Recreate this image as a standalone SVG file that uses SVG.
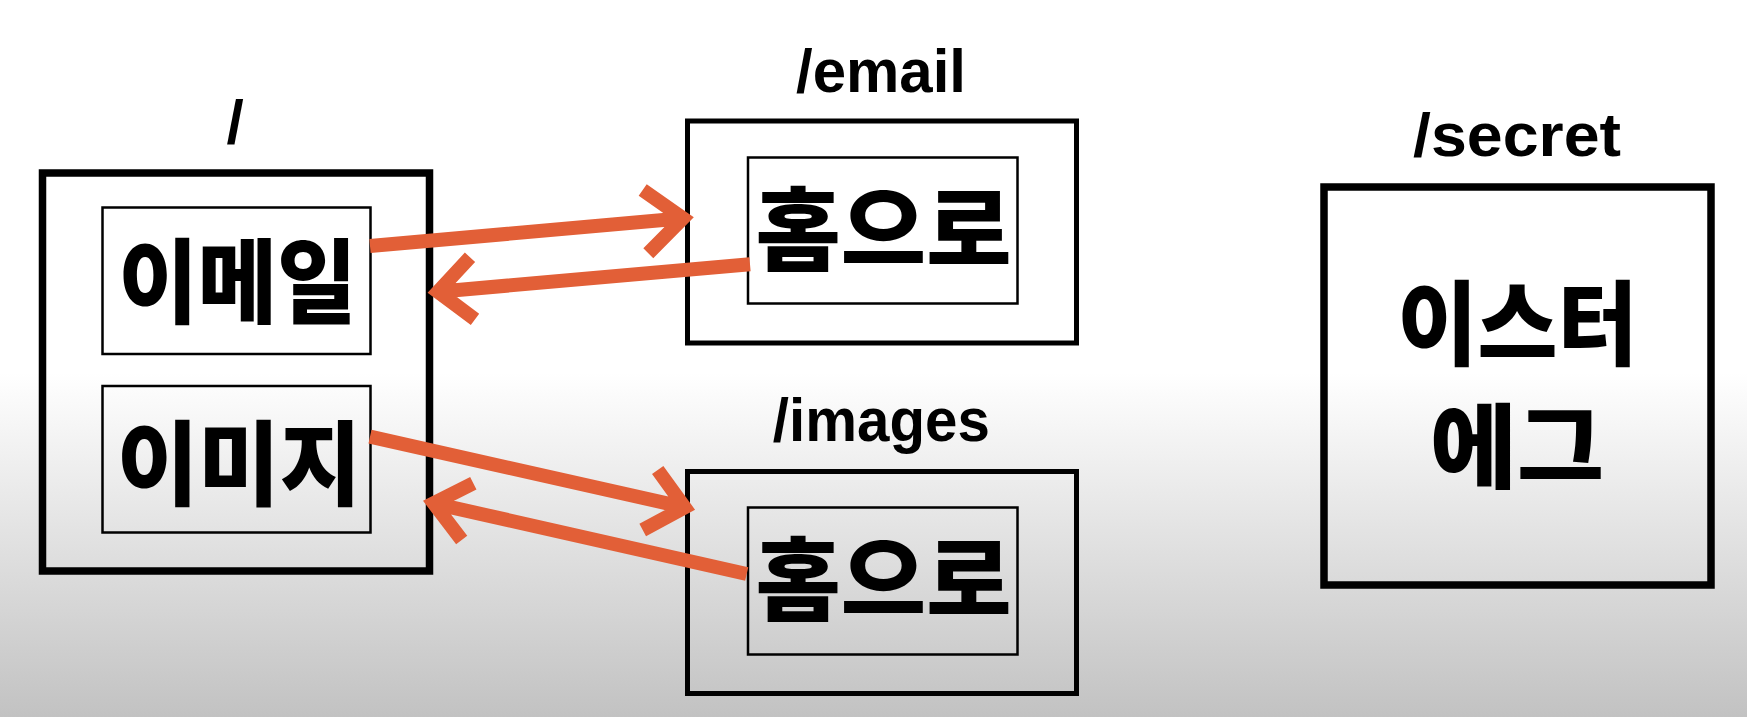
<svg xmlns="http://www.w3.org/2000/svg" width="1747" height="717" viewBox="0 0 1747 717">
<defs>
<linearGradient id="bg" x1="0" y1="0" x2="0" y2="1">
<stop offset="0" stop-color="#ffffff"/>
<stop offset="0.52" stop-color="#ffffff"/>
<stop offset="1" stop-color="#c2c2c2"/>
</linearGradient>
<style>
.thick{fill:none;stroke:#000;stroke-width:7.5}
.mid{fill:none;stroke:#000;stroke-width:5}
.thin{fill:none;stroke:#000;stroke-width:2.5}
.ko{font-family:"Noto Sans CJK KR","Noto Sans CJK SC",sans-serif;font-weight:900;font-size:92px;fill:#000;text-anchor:middle;dominant-baseline:central}
.lbl{font-family:"Liberation Sans","DejaVu Sans",sans-serif;font-weight:700;font-size:62px;fill:#000;text-anchor:middle}
.arr{fill:none;stroke:#E25F37;stroke-width:14;stroke-linecap:butt;stroke-linejoin:miter}
</style>
</defs>
<rect x="0" y="0" width="1747" height="717" fill="url(#bg)"/>

<g id="root">
<text class="lbl" x="235" y="143">/</text>
<rect class="thick" x="42.5" y="173" width="387" height="398"/>
</g>
<g id="email-link">
<rect class="thin" x="102.5" y="207.5" width="268" height="146.5"/>
<text class="ko" x="237.5" y="275" textLength="238" lengthAdjust="spacingAndGlyphs">이메일</text>
</g>
<g id="images-link">
<rect class="thin" x="102.5" y="386" width="268" height="146.5"/>
<text class="ko" x="239" y="457" textLength="244" lengthAdjust="spacingAndGlyphs">이미지</text>
</g>

<g id="email">
<text class="lbl" x="881" y="91.5" textLength="170" lengthAdjust="spacingAndGlyphs">/email</text>
<rect class="mid" x="687.5" y="121" width="389" height="222"/>
<rect class="thin" x="748" y="157.5" width="269.5" height="146"/>
<text class="ko" x="883.5" y="223" textLength="256" lengthAdjust="spacingAndGlyphs">홈으로</text>
</g>

<g id="images">
<text class="lbl" x="881.3" y="441" textLength="217" lengthAdjust="spacingAndGlyphs">/images</text>
<rect class="mid" x="687.5" y="471.5" width="389" height="222"/>
<rect class="thin" x="748" y="507.5" width="269.5" height="147"/>
<text class="ko" x="883.5" y="573" textLength="256" lengthAdjust="spacingAndGlyphs">홈으로</text>
</g>

<g id="secret">
<text class="lbl" x="1517" y="155.5" textLength="208" lengthAdjust="spacingAndGlyphs">/secret</text>
<rect class="thick" x="1324" y="187" width="387" height="398"/>
<text class="ko" x="1517.5" y="317" textLength="240" lengthAdjust="spacingAndGlyphs">이스터</text>
<text class="ko" x="1517" y="440" textLength="174" lengthAdjust="spacingAndGlyphs">에그</text>
</g>

<g id="connectors">
<path class="arr" d="M370 246 L683 218.3 M642.7 190 L683 218.3 L648.3 253.3"/>
<path class="arr" d="M750 264.3 L438 291.7 M470 257.3 L438 291.7 L475 319.3"/>
<path class="arr" d="M370 436.7 L684.7 507.3 M657.7 470 L684.7 507.3 L642.7 530"/>
<path class="arr" d="M746.7 574 L433.7 503.3 M473.3 483.3 L433.7 503.3 L461.7 540"/>
</g>
</svg>
